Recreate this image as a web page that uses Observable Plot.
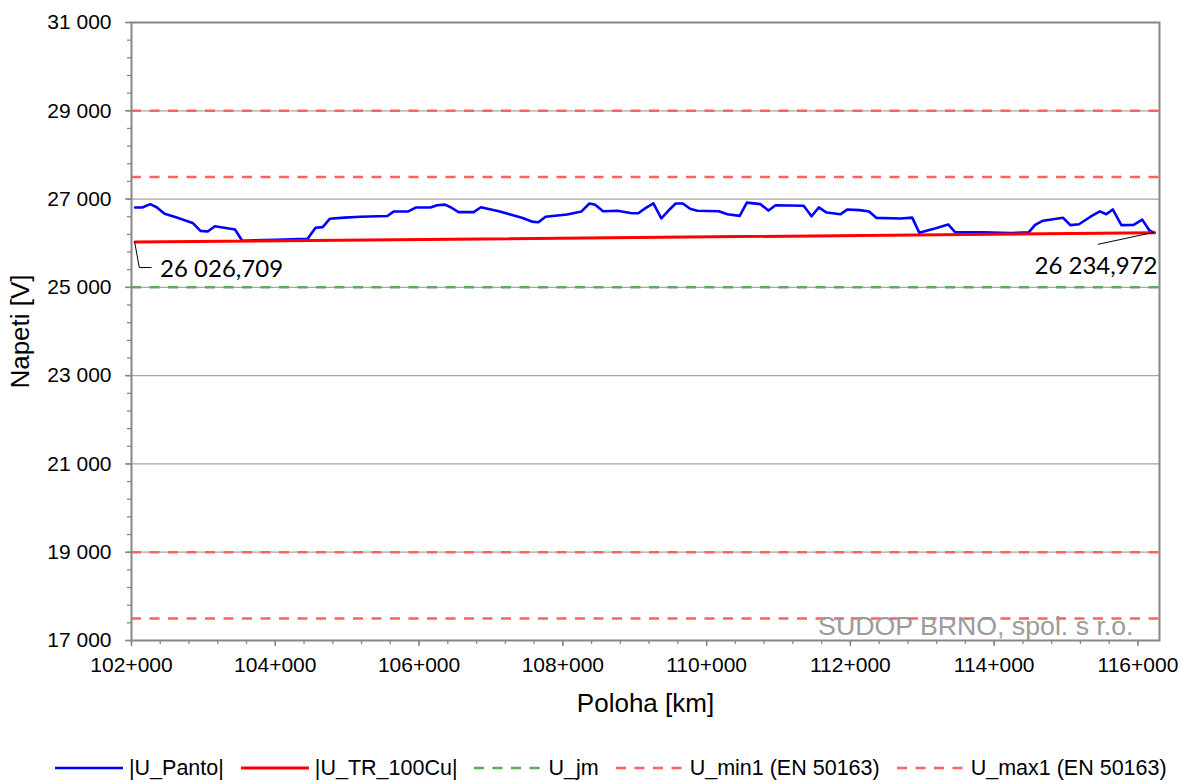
<!DOCTYPE html>
<html><head><meta charset="utf-8">
<script src="https://cdn.jsdelivr.net/npm/d3@7"></script>
<script src="https://cdn.jsdelivr.net/npm/@observablehq/plot@0.6"></script>
<style>
body{margin:0;background:#fff;font-family:"Liberation Sans",Arial,sans-serif;}
#chart svg{display:block;}
#legend{display:flex;flex-wrap:nowrap;white-space:nowrap;align-items:center;height:24px;margin-top:11px;padding-left:55px;font-size:21.5px;color:#000;}
.item{display:flex;align-items:center;margin-right:17px;}
.item svg{margin-right:6px;display:block;}
</style></head><body>
<div id="chart"></div><div id="legend"></div>
<script>
// ---- data ----
const pantoKm = [102.05,102.15,102.26,102.35,102.46,102.64,102.85,102.96,103.06,103.16,103.44,103.54,104.00,104.45,104.56,104.66,104.76,104.96,105.19,105.56,105.65,105.85,105.96,106.16,106.25,106.36,106.44,106.55,106.76,106.86,107.11,107.27,107.43,107.57,107.66,107.76,108.06,108.26,108.37,108.45,108.56,108.76,108.96,109.05,109.15,109.26,109.37,109.47,109.57,109.67,109.77,109.87,110.17,110.29,110.46,110.56,110.75,110.86,110.96,111.35,111.46,111.56,111.67,111.86,111.96,112.13,112.26,112.36,112.70,112.86,112.96,113.16,113.36,113.46,113.85,114.23,114.48,114.57,114.68,114.96,115.06,115.18,115.34,115.47,115.56,115.65,115.77,115.94,116.06,116.16,116.23];
const pantoU = [26810,26810,26885,26815,26665,26575,26460,26280,26265,26385,26310,26055,26080,26100,26350,26365,26555,26580,26600,26615,26720,26720,26810,26810,26860,26875,26815,26705,26705,26815,26725,26650,26575,26490,26475,26600,26650,26720,26900,26870,26725,26735,26680,26680,26795,26900,26565,26740,26900,26900,26780,26735,26725,26655,26620,26920,26885,26740,26860,26850,26610,26810,26695,26655,26765,26750,26720,26575,26560,26580,26235,26325,26425,26245,26245,26230,26245,26415,26510,26575,26410,26430,26600,26720,26655,26765,26410,26415,26535,26290,26235];
const trKm = [102.05, 116.23];
const trU = [26026.709, 26234.972];
const limitLevels = [29000, 27500, 19000, 17500];
const jmLevels = [25000];
const yTicks = [17000,19000,21000,23000,25000,27000,29000,31000];
const xTicks = [102,104,106,108,110,112,114,116];
const seriesNames = ["|U_Panto|","|U_TR_100Cu|","U_jm","U_min1 (EN 50163)","U_max1 (EN 50163)"];
const yTitle = "Napeti [V]";
const xTitle = "Poloha [km]";
const watermark = "SUDOP BRNO, spol. s r.o.";

// ---- derived ----
const panto = pantoKm.map((k,i)=>({km:k, U:pantoU[i]}));
const tr = trKm.map((k,i)=>({km:k, U:trU[i]}));
const czFmt = d3.formatLocale({decimal:",", thousands:"\u00a0", grouping:[3], currency:["",""]});
const fmtY = v => czFmt.format(",")(v);
const fmtAnn = v => czFmt.format(",.3f")(v);
const minorX = d3.range(0, 36).map(i => 102 + i*0.4);
const minorY = d3.range(0, 36).map(i => 17000 + i*400);

const RED_DASH = "#ff6262", GREEN_DASH = "#5aab5a", DASH = "10,8.5";

const leaders = (index, scales) => {
  const g = d3.create("svg:g").attr("fill","none").attr("stroke","#000").attr("stroke-width",1);
  const x0 = scales.x(tr[0].km), y0 = scales.y(tr[0].U);
  g.append("path").attr("d", `M${x0},${y0}L${x0+4.7},${y0+26}L${x0+17},${y0+26}`);
  const x1 = scales.x(tr[1].km), y1 = scales.y(tr[1].U);
  g.append("path").attr("d", `M${x1},${y1}L${x1-56},${y1+12}`);
  return g.node();
};

const chart = Plot.plot({
  width: 1182, height: 745,
  marginLeft: 131, marginRight: 23, marginTop: 22, marginBottom: 105,
  x: {domain: [102, 116.3]},
  y: {domain: [17000, 31000]},
  style: {fontFamily: "'Liberation Sans', Arial, sans-serif", fontSize: "21px", color: "#000", background: "#fff"},
  marks: [
    Plot.ruleY(yTicks, {stroke: "#a6a6a6", strokeWidth: 1.2}),
    Plot.ruleY(limitLevels, {stroke: RED_DASH, strokeWidth: 2.5, strokeDasharray: DASH}),
    Plot.ruleY(jmLevels, {stroke: GREEN_DASH, strokeWidth: 2.5, strokeDasharray: DASH}),
    Plot.frame({stroke: "#878787", strokeWidth: 2}),
    Plot.line(panto, {x: "km", y: "U", stroke: "#0000ff", strokeWidth: 2.6, curve: "linear"}),
    Plot.line(tr, {x: "km", y: "U", stroke: "#ff0000", strokeWidth: 3}),
    leaders,
    Plot.text([tr[0]], {x: "km", y: "U", text: d => fmtAnn(d.U), dx: 25, dy: 27, textAnchor: "start", fontSize: 24, fontFamily: "Lato, 'Open Sans', sans-serif", fill: "#000"}),
    Plot.text([tr[1]], {x: "km", y: "U", text: d => fmtAnn(d.U), dx: 3, dy: 33.5, textAnchor: "end", fontSize: 24, fontFamily: "Lato, 'Open Sans', sans-serif", fill: "#000"}),
    Plot.text([watermark], {frameAnchor: "bottom-right", dx: -26, dy: -14, lineAnchor: "middle", textAnchor: "end", fontSize: 26.7, fill: "#9b9b9b"}),
    Plot.axisX(minorX, {tickSize: 4, stroke: "#878787", strokeWidth: 1.3, fill: "none", label: null}),
    Plot.axisY(minorY, {tickSize: 4, stroke: "#878787", strokeWidth: 1.3, fill: "none", label: null}),
    Plot.axisX(xTicks, {tickSize: 6, tickPadding: 11, tickFormat: d => `${d}+000`, stroke: "#878787", strokeWidth: 1.5, fontSize: 21, label: null}),
    Plot.axisY(yTicks, {tickSize: 6, tickPadding: 14, tickFormat: fmtY, stroke: "#878787", strokeWidth: 1.5, fontSize: 21, label: null}),
    Plot.text([yTitle], {frameAnchor: "left", dx: -111, rotate: -90, textAnchor: "middle", lineAnchor: "middle", fontSize: 26}),
    Plot.text([xTitle], {frameAnchor: "bottom", dy: 63, lineAnchor: "middle", fontSize: 26})
  ]
});
document.getElementById("chart").append(chart);

// ---- legend ----
const legendStyles = [
  {color: "#0000ff", dash: null, w: 2.6},
  {color: "#ff0000", dash: null, w: 3},
  {color: GREEN_DASH, dash: DASH, w: 2.5},
  {color: RED_DASH, dash: DASH, w: 2.5},
  {color: RED_DASH, dash: DASH, w: 2.5}
];
const legend = d3.select("#legend");
seriesNames.forEach((name, i) => {
  const s = legendStyles[i];
  const it = legend.append("div").attr("class", "item");
  const sv = it.append("svg").attr("width", 68).attr("height", 10);
  sv.append("line").attr("x1", 0).attr("x2", 68).attr("y1", 5).attr("y2", 5)
    .attr("stroke", s.color).attr("stroke-width", s.w).attr("stroke-dasharray", s.dash);
  it.append("span").text(name);
});
</script></body></html>
